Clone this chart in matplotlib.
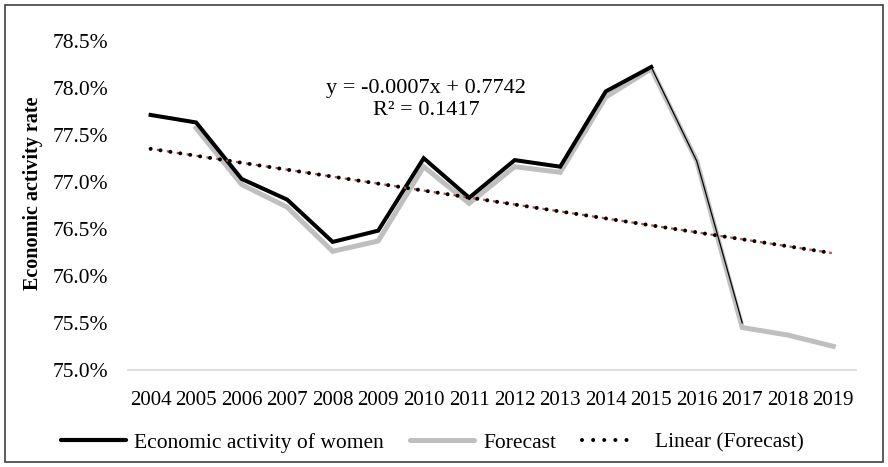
import matplotlib.pyplot as plt
from matplotlib.patches import Rectangle
from matplotlib.lines import Line2D
from matplotlib.ticker import FuncFormatter
import numpy as np

plt.rcParams['font.family'] = ['Liberation Serif', 'DejaVu Serif']
plt.rcParams['lines.scale_dashes'] = False

years = [2004, 2005, 2006, 2007, 2008, 2009, 2010, 2011,
         2012, 2013, 2014, 2015, 2016, 2017, 2018, 2019]
women = [0.7771, 0.7763, 0.7703, 0.7681, 0.7636, 0.7648, 0.7725, 0.7683,
         0.7723, 0.7716, 0.7796, 0.7822, 0.7722, 0.7550]
forecast = [None, 0.7757, 0.7697, 0.7673, 0.7626, 0.7637, 0.7716, 0.7677,
            0.7716, 0.7710, 0.7790, 0.7820, 0.7722, 0.7545, 0.7537, 0.7525]
trend_slope = -0.00074
trend_intercept = 0.77424

fig = plt.figure(figsize=(8.88, 4.67), dpi=100)
ax = fig.add_axes([0.144, 0.208, 0.82, 0.705])

x = np.arange(len(years))
fx = [i for i, v in enumerate(forecast) if v is not None]
fy = [v for v in forecast if v is not None]
ax.plot(fx, fy, color='#bfbfbf', lw=3.6, solid_joinstyle='miter', zorder=2)

# measured series: thick up to 2015, thin after
ax.plot(x[:12], women[:12], color='black', lw=2.9, solid_joinstyle='miter', zorder=3)
ax.plot(x[11:14], women[11:14], color='black', lw=0.9, zorder=3)

tx = np.arange(1, len(years) + 1)
ty = trend_slope * tx + trend_intercept
ax.plot(x, ty, color='#c0504d', lw=1.6, linestyle=(2.6, (2.0, 5.2)), zorder=4)
ax.plot(x, ty, color='black', lw=2.9, linestyle=(0, (0.01, 7.2)),
        dash_capstyle='round', zorder=5)

ax.text(6.05, 0.77872, 'y = -0.0007x + 0.7742\nR² = 0.1417', ha='center',
        va='center', fontsize=16, linespacing=1.25)

ax.set_xlim(-0.5, len(years) - 0.5)
ax.set_ylim(0.75, 0.785)
ax.set_xticks(x)
ax.set_xticklabels([str(y) for y in years], fontsize=15)
ax.set_yticks(np.arange(0.75, 0.7851, 0.005))
ax.yaxis.set_major_formatter(FuncFormatter(lambda v, p: f'{v*100:.1f}%'))
ax.tick_params(axis='y', labelsize=15.5, length=0, pad=14)
ax.tick_params(axis='x', length=0, pad=15)
for s in ['top', 'right', 'left']:
    ax.spines[s].set_visible(False)
ax.spines['bottom'].set_color('#d9d9d9')
ax.spines['bottom'].set_linewidth(1.2)
ax.set_ylabel('Economic activity rate', fontsize=14.5, fontweight='bold')
ax.yaxis.set_label_coords(-0.117, 0.535)

handles = [
    Line2D([], [], color='black', lw=3, solid_capstyle='round'),
    Line2D([], [], color='#bfbfbf', lw=3.6, solid_capstyle='round'),
    Line2D([], [], color='black', lw=2.9,
           linestyle=(0, (0.01, 8, 0.01, 8, 0.01, 8, 0.01, 8, 0.01, 24)),
           dash_capstyle='round'),
]
fig.legend(handles, ['Economic activity of women', 'Forecast', 'Linear (Forecast)'],
           loc='center', bbox_to_anchor=(0.487, 0.052), ncol=3, frameon=False,
           fontsize=15.5, handlelength=3.0, handletextpad=0.4, columnspacing=1.2)

fig.patches.append(Rectangle((0.006, 0.011), 0.988, 0.978, transform=fig.transFigure,
                             fill=False, edgecolor='#404040', lw=1.2))

fig.savefig('out.png', dpi=100)
